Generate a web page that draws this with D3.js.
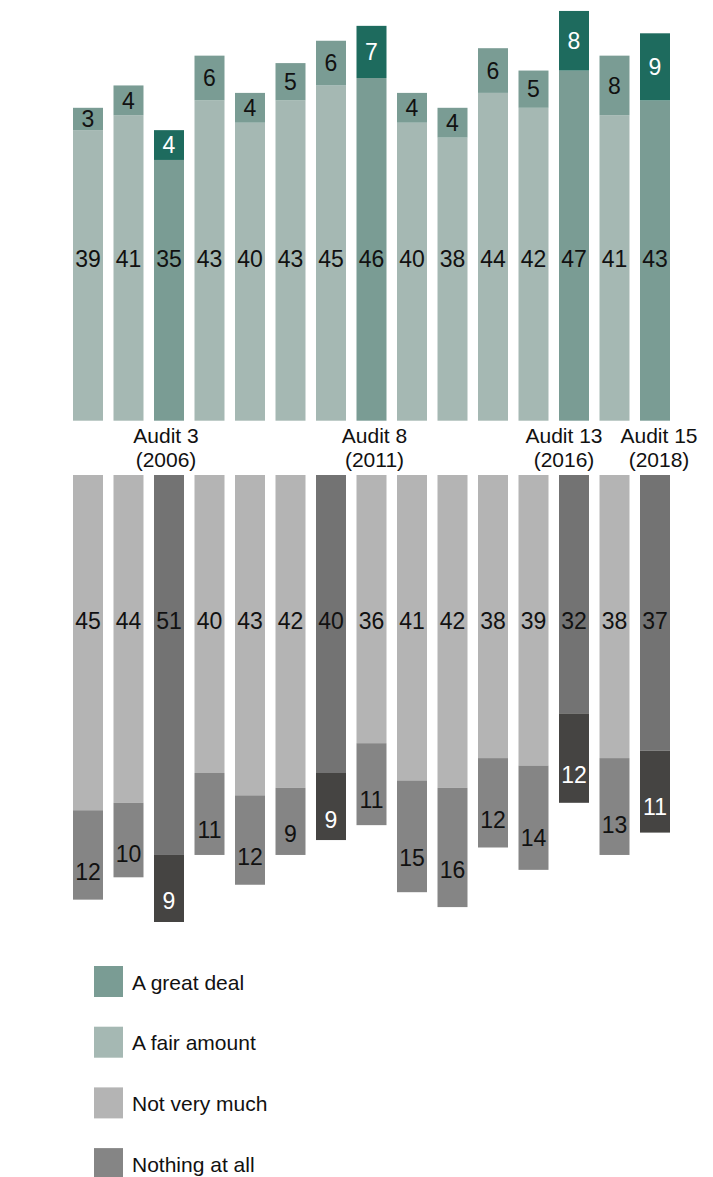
<!DOCTYPE html>
<html>
<head>
<meta charset="utf-8">
<script src="https://cdn.jsdelivr.net/npm/d3@7"></script>
<style>
  html, body { margin: 0; padding: 0; background: #ffffff; }
  svg { display: block; font-family: "Liberation Sans", Arial, sans-serif; }
</style>
</head>
<body>
<svg id="chart" width="713" height="1177"></svg>
<script>
// Audit rounds 1-15
const audits = d3.range(1, 16);
// Rounds shaded darker in the upper and lower panels
const highlightedUp = [3, 8, 13, 15];
const highlightedDown = [3, 7, 13, 15];
const axisLabels = {
  3: ["Audit 3", "(2006)"],
  8: ["Audit 8", "(2011)"],
  13: ["Audit 13", "(2016)"],
  15: ["Audit 15", "(2018)"]
};
const labelledAudits = [3, 8, 13, 15];

// Percentages per round
const greatDeal   = [3, 4, 4, 6, 4, 5, 6, 7, 4, 4, 6, 5, 8, 8, 9];
const fairAmount  = [39, 41, 35, 43, 40, 43, 45, 46, 40, 38, 44, 42, 47, 41, 43];
const notVeryMuch = [45, 44, 51, 40, 43, 42, 40, 36, 41, 42, 38, 39, 32, 38, 37];
const nothingAtAll = [12, 10, 9, 11, 12, 9, 9, 11, 15, 16, 12, 14, 12, 13, 11];

const legendItems = ["A great deal", "A fair amount", "Not very much", "Nothing at all"];

const colors = {
  great: "#7a9c94", greatHi: "#1e6b5e",
  fair: "#a5b8b3", fairHi: "#7a9c94",
  notMuch: "#b4b4b4", notMuchHi: "#737373",
  nothing: "#858585", nothingHi: "#454442"
};
const legendColors = [colors.great, colors.fair, colors.notMuch, colors.nothing];

const svg = d3.select("#chart");

const x = d3.scaleBand()
  .domain(audits)
  .range([67.75, 675.25])
  .paddingInner(0.2593)
  .paddingOuter(0.1296);

// Upper panel grows up from its baseline, lower panel hangs down from its own
const unit = 7.45;
const yUp = d3.scaleLinear().domain([0, 56]).range([420.7, 420.7 - 56 * unit]);
const yDown = d3.scaleLinear().domain([0, 60]).range([475, 475 + 60 * unit]);

const rows = audits.map((a, i) => ({
  audit: a,
  hiUp: highlightedUp.includes(a),
  hiDown: highlightedDown.includes(a),
  great: greatDeal[i],
  fair: fairAmount[i],
  notMuch: notVeryMuch[i],
  nothing: nothingAtAll[i]
}));

const bw = x.bandwidth();
const cx = d => x(d.audit) + bw / 2;

// Level (in percentage points) at which the large-segment labels sit
const fairLabelLevel = 21.8;
const notMuchLabelLevel = 19.5;

const g = svg.append("g");

// A fair amount
g.selectAll("rect.fair").data(rows).join("rect")
  .attr("class", "fair")
  .attr("x", d => x(d.audit)).attr("width", bw)
  .attr("y", d => yUp(d.fair)).attr("height", d => yUp(0) - yUp(d.fair))
  .attr("fill", d => d.hiUp ? colors.fairHi : colors.fair);

// A great deal
g.selectAll("rect.great").data(rows).join("rect")
  .attr("class", "great")
  .attr("x", d => x(d.audit)).attr("width", bw)
  .attr("y", d => yUp(d.fair + d.great)).attr("height", d => yUp(d.fair) - yUp(d.fair + d.great))
  .attr("fill", d => d.hiUp ? colors.greatHi : colors.great);

// Not very much
g.selectAll("rect.notMuch").data(rows).join("rect")
  .attr("class", "notMuch")
  .attr("x", d => x(d.audit)).attr("width", bw)
  .attr("y", yDown(0)).attr("height", d => yDown(d.notMuch) - yDown(0))
  .attr("fill", d => d.hiDown ? colors.notMuchHi : colors.notMuch);

// Nothing at all
g.selectAll("rect.nothing").data(rows).join("rect")
  .attr("class", "nothing")
  .attr("x", d => x(d.audit)).attr("width", bw)
  .attr("y", d => yDown(d.notMuch)).attr("height", d => yDown(d.notMuch + d.nothing) - yDown(d.notMuch))
  .attr("fill", d => d.hiDown ? colors.nothingHi : colors.nothing);

// Value labels
const labels = svg.append("g")
  .attr("font-size", 23)
  .attr("text-anchor", "middle");

labels.selectAll("text.fair").data(rows).join("text")
  .attr("x", cx).attr("y", yUp(fairLabelLevel)).attr("dy", "0.36em")
  .attr("fill", "#111").text(d => d.fair);

labels.selectAll("text.great").data(rows).join("text")
  .attr("x", cx).attr("y", d => yUp(d.fair + d.great / 2)).attr("dy", "0.36em")
  .attr("fill", d => d.hiUp ? "#ffffff" : "#111").text(d => d.great);

labels.selectAll("text.notMuch").data(rows).join("text")
  .attr("x", cx).attr("y", yDown(notMuchLabelLevel)).attr("dy", "0.36em")
  .attr("fill", "#111").text(d => d.notMuch);

labels.selectAll("text.nothing").data(rows).join("text")
  .attr("x", cx).attr("y", d => yDown(d.notMuch + d.nothing * 0.69)).attr("dy", "0.36em")
  .attr("fill", d => d.hiDown ? "#ffffff" : "#111").text(d => d.nothing);

// Category labels between the two panels
const nudge = { 3: -3, 8: 3, 13: -10, 15: 4 }; // keeps neighbouring labels apart
const axisG = svg.append("g")
  .attr("font-size", 21)
  .attr("text-anchor", "middle")
  .attr("fill", "#111");
labelledAudits.forEach(a => {
  const t = axisG.append("text")
    .attr("x", x(a) + bw / 2 + nudge[a])
    .attr("y", 443);
  axisLabels[a].forEach((line, k) => {
    t.append("tspan")
      .attr("x", x(a) + bw / 2 + nudge[a])
      .attr("dy", k === 0 ? 0 : 24)
      .text(line);
  });
});

// Legend
const legend = svg.append("g").attr("transform", "translate(94, 966)");
const li = legend.selectAll("g").data(legendItems).join("g")
  .attr("transform", (d, i) => `translate(0, ${i * 60.7})`);
li.append("rect").attr("width", 29).attr("height", 31)
  .attr("fill", (d, i) => legendColors[i]);
li.append("text")
  .attr("x", 38).attr("y", 16).attr("dy", "0.36em")
  .attr("font-size", 21).attr("fill", "#111")
  .text(d => d);
</script>
</body>
</html>
